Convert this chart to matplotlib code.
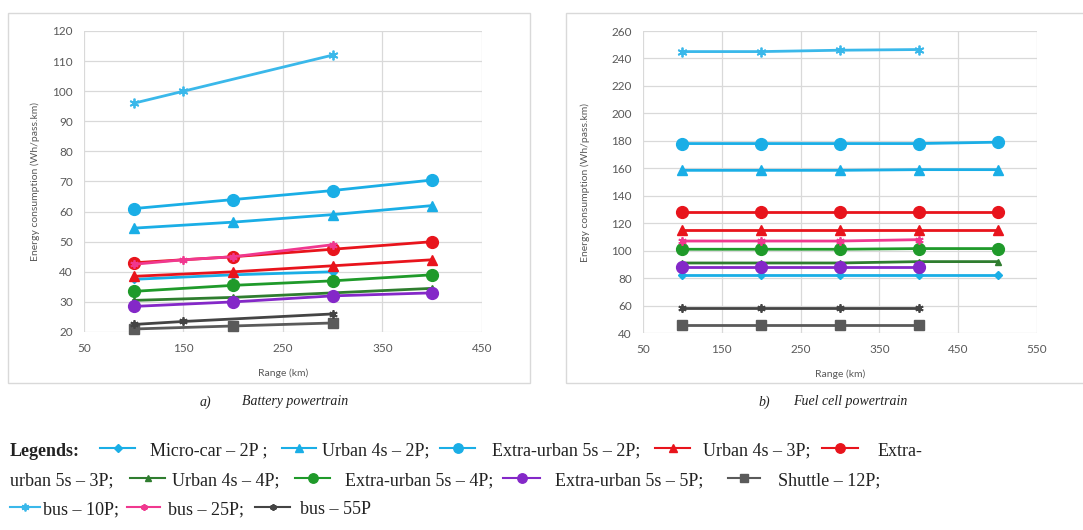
import matplotlib
matplotlib.use("Agg")
import matplotlib.pyplot as plt
from matplotlib.lines import Line2D
from matplotlib.patches import Rectangle

# ---- data ----
series_names = ["Micro-car – 2P", "Urban 4s – 2P", "Extra-urban 5s – 2P",
                "Urban 4s – 3P", "Extra-urban 5s – 3P", "Urban 4s – 4P",
                "Extra-urban 5s – 4P", "Extra-urban 5s – 5P", "Shuttle – 12P",
                "bus – 10P", "bus – 25P", "bus – 55P"]

# Battery powertrain
bat_x = {
    "Micro-car – 2P": [100, 200, 300],
    "Urban 4s – 2P": [100, 200, 300, 400],
    "Extra-urban 5s – 2P": [100, 200, 300, 400],
    "Urban 4s – 3P": [100, 200, 300, 400],
    "Extra-urban 5s – 3P": [100, 200, 300, 400],
    "Urban 4s – 4P": [100, 200, 300, 400],
    "Extra-urban 5s – 4P": [100, 200, 300, 400],
    "Extra-urban 5s – 5P": [100, 200, 300, 400],
    "Shuttle – 12P": [100, 200, 300],
    "bus – 10P": [100, 150, 300],
    "bus – 25P": [100, 150, 200, 300],
    "bus – 55P": [100, 150, 300],
}
bat_y = {
    "Micro-car – 2P": [37.5, 39, 40],
    "Urban 4s – 2P": [54.5, 56.5, 59, 62],
    "Extra-urban 5s – 2P": [61, 64, 67, 70.5],
    "Urban 4s – 3P": [38.5, 40, 42, 44],
    "Extra-urban 5s – 3P": [43, 45, 47.5, 50],
    "Urban 4s – 4P": [30.5, 31.5, 33, 34.5],
    "Extra-urban 5s – 4P": [33.5, 35.5, 37, 39],
    "Extra-urban 5s – 5P": [28.5, 30, 32, 33],
    "Shuttle – 12P": [21, 22, 23],
    "bus – 10P": [96, 100, 112],
    "bus – 25P": [42.5, 44, 45, 49],
    "bus – 55P": [22.5, 23.5, 26],
}

# Fuel cell powertrain
fc_x = {
    "Micro-car – 2P": [100, 200, 300, 400, 500],
    "Urban 4s – 2P": [100, 200, 300, 400, 500],
    "Extra-urban 5s – 2P": [100, 200, 300, 400, 500],
    "Urban 4s – 3P": [100, 200, 300, 400, 500],
    "Extra-urban 5s – 3P": [100, 200, 300, 400, 500],
    "Urban 4s – 4P": [100, 200, 300, 400, 500],
    "Extra-urban 5s – 4P": [100, 200, 300, 400, 500],
    "Extra-urban 5s – 5P": [100, 200, 300, 400],
    "Shuttle – 12P": [100, 200, 300, 400],
    "bus – 10P": [100, 200, 300, 400],
    "bus – 25P": [100, 200, 300, 400],
    "bus – 55P": [100, 200, 300, 400],
}
fc_y = {
    "Micro-car – 2P": [82, 82, 82, 82, 82],
    "Urban 4s – 2P": [158.5, 158.5, 158.5, 159, 159],
    "Extra-urban 5s – 2P": [178, 178, 178, 178, 179],
    "Urban 4s – 3P": [115, 115, 115, 115, 115],
    "Extra-urban 5s – 3P": [128, 128, 128, 128, 128],
    "Urban 4s – 4P": [91, 91, 91, 92, 92],
    "Extra-urban 5s – 4P": [101, 101, 101, 101.5, 101.5],
    "Extra-urban 5s – 5P": [88, 88, 88, 88],
    "Shuttle – 12P": [46, 46, 46, 46],
    "bus – 10P": [245, 245, 246, 246.5],
    "bus – 25P": [107, 107, 107, 108],
    "bus – 55P": [58, 58, 58, 58],
}

bat_xticks = [50, 150, 250, 350, 450]
bat_yticks = list(range(20, 121, 10))
fc_xticks = [50, 150, 250, 350, 450, 550]
fc_yticks = list(range(40, 261, 20))

# ---- styles ----
CYAN = "#1aaee6"
RED = "#e8141c"
GREEN = "#1f9a2a"
DKGREEN = "#2f7d2f"
PURPLE = "#8428c8"
PINK = "#f0388f"
GRAY = "#5a5a5a"
DKGRAY = "#444444"
STAR = (6, 2, 0)

style = {
    "Micro-car – 2P": dict(color=CYAN, marker="D", ms=4.5),
    "Urban 4s – 2P": dict(color=CYAN, marker="^", ms=7),
    "Extra-urban 5s – 2P": dict(color=CYAN, marker="o", ms=8.5),
    "Urban 4s – 3P": dict(color=RED, marker="^", ms=7),
    "Extra-urban 5s – 3P": dict(color=RED, marker="o", ms=8.5),
    "Urban 4s – 4P": dict(color=DKGREEN, marker="^", ms=5),
    "Extra-urban 5s – 4P": dict(color=GREEN, marker="o", ms=8.5),
    "Extra-urban 5s – 5P": dict(color=PURPLE, marker="o", ms=8.5),
    "Shuttle – 12P": dict(color=GRAY, marker="s", ms=7),
    "bus – 10P": dict(color="#3ab8ea", marker=STAR, ms=7, mew=1.3),
    "bus – 25P": dict(color=PINK, marker=STAR, ms=6, mew=1.3),
    "bus – 55P": dict(color=DKGRAY, marker=STAR, ms=6, mew=1.3),
}

W, H = 1083, 530
fig = plt.figure(figsize=(W / 100, H / 100), dpi=100, facecolor="white")


def px(x0, y0, x1, y1):
    return [x0 / W, 1 - y1 / H, (x1 - x0) / W, (y1 - y0) / H]


# outer chart frames
for (x0, y0, x1, y1) in [(8, 13, 530, 383), (566, 13, 1095, 383)]:
    fig.add_artist(Rectangle((x0 / W, 1 - y1 / H), (x1 - x0) / W, (y1 - y0) / H,
                             transform=fig.transFigure, fill=False,
                             edgecolor="#d9d9d9", linewidth=1.0))

TICK_FONT = "Lato"
TICK_COL = "#595959"


def setup(ax, xticks, yticks, ylab_x):
    ax.set_xlim(xticks[0], xticks[-1])
    ax.set_ylim(yticks[0], yticks[-1])
    ax.set_xticks(xticks)
    ax.set_yticks(yticks)
    ax.grid(True, color="#d9d9d9", linewidth=0.9)
    ax.set_axisbelow(True)
    for s in ax.spines.values():
        s.set_visible(False)
    ax.tick_params(length=0, labelsize=8.5, labelcolor=TICK_COL, pad=8)
    for lab in ax.get_xticklabels() + ax.get_yticklabels():
        lab.set_family(TICK_FONT)
    ax.set_xlabel("Range (km)", fontsize=7.5, color=TICK_COL, family=TICK_FONT)
    ax.set_ylabel("Energy consumption (Wh/pass.km)", fontsize=7.5,
                  color=TICK_COL, family=TICK_FONT)
    ax.xaxis.set_label_coords(0.5, -0.12)
    ax.yaxis.set_label_coords(ylab_x, 0.5)


ax1 = fig.add_axes(px(84, 31, 482, 332))
ax2 = fig.add_axes(px(643, 31, 1037, 333))
setup(ax1, bat_xticks, bat_yticks, -0.11)
setup(ax2, fc_xticks, fc_yticks, -0.135)

for ax, xs, ys in [(ax1, bat_x, bat_y), (ax2, fc_x, fc_y)]:
    for name in series_names:
        st = style[name]
        ax.plot(xs[name], ys[name], color=st["color"], marker=st["marker"],
                markersize=st["ms"], markeredgewidth=st.get("mew", 1.0),
                markeredgecolor=st["color"], linewidth=2.0, clip_on=False)

# captions
SERIF = "Liberation Serif"
cap = dict(fontsize=10, style="italic", family=SERIF, va="center", color="#222222")
fig.text(200 / W, 1 - 402 / H, "a)", **cap)
fig.text(242 / W, 1 - 402 / H, "Battery powertrain", **cap)
fig.text(758 / W, 1 - 402 / H, "b)", **cap)
fig.text(793 / W, 1 - 402 / H, "Fuel cell powertrain", **cap)

# inline legend
leg_font = dict(fontsize=13, family=SERIF, va="center", color="#222222")
fig.text(10 / W, 1 - 451 / H, "Legends:", fontweight="bold", **leg_font)

# (series, line x0, line x1, row y, text x, text)
leg_rows = [
    ("Micro-car – 2P", 100, 135, 451, 150, "Micro-car – 2P ;"),
    ("Urban 4s – 2P", 282, 316, 451, 322, "Urban 4s – 2P;"),
    ("Extra-urban 5s – 2P", 440, 475, 451, 492, "Extra-urban 5s – 2P;"),
    ("Urban 4s – 3P", 655, 690, 451, 703, "Urban 4s – 3P;"),
    ("Extra-urban 5s – 3P", 822, 858, 451, 878, "Extra-"),
    (None, 0, 0, 481, 10, "urban 5s – 3P;"),
    ("Urban 4s – 4P", 130, 165, 481, 172, "Urban 4s – 4P;"),
    ("Extra-urban 5s – 4P", 295, 330, 481, 345, "Extra-urban 5s – 4P;"),
    ("Extra-urban 5s – 5P", 503, 540, 481, 555, "Extra-urban 5s – 5P;"),
    ("Shuttle – 12P", 728, 760, 481, 778, "Shuttle – 12P;"),
    ("bus – 10P", 10, 40, 510, 43, "bus – 10P;"),
    ("bus – 25P", 127, 160, 510, 168, "bus – 25P;"),
    ("bus – 55P", 255, 290, 510, 300, "bus – 55P"),
]
for name, lx0, lx1, ry, tx, label in leg_rows:
    if name is not None:
        st = style[name]
        fy = 1 - (ry - 3) / H
        fig.add_artist(Line2D([lx0 / W, lx1 / W], [fy, fy], transform=fig.transFigure,
                              color=st["color"], linewidth=1.5))
        fig.add_artist(Line2D([(lx0 + lx1) / 2 / W], [fy], transform=fig.transFigure,
                              color=st["color"], marker=st["marker"],
                              markersize=st["ms"] * 0.8,
                              markeredgewidth=st.get("mew", 1.0)))
    fig.text(tx / W, 1 - ry / H, label, **leg_font)

fig.savefig("out.png", dpi=100, facecolor="white")
